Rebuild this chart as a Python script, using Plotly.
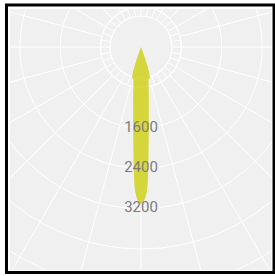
import plotly.graph_objects as go

# ---------------- data ----------------
tick_values = [1600, 2400, 3200]
tick_labels = ["1600", "2400", "3200"]
grid_rings = [800, 1600, 2400, 3200, 4000, 4800]
outer_spoke_step = 15          # degrees between outer spokes
inner_spoke_step = 10          # degrees between spokes in the inner band
inner_band_outer = 800         # radial value of the inner band's outer ring
inner_band_inner = 614         # radial value of the inner band's inner ring
bar_direction = 180            # compass angle of the shape (pointing down)
# outline of the yellow shape: radius and half angular width (deg) at that radius
bar_outline_r = [0, 127, 254, 380, 502, 602, 639, 652, 1003, 1592, 2184, 2677, 2874, 2992, 3070, 3109]
bar_outline_half = [0, 20, 19.5, 19.0, 18.0, 16.8, 16.0, 13.2, 8.9, 5.6, 3.9, 2.9, 2.3, 1.6, 0.9, 0]

# ---------------- styling / geometry ----------------
BG = "#f0f0f0"
GRID = "#ffffff"
FILL = "rgba(208,210,30,0.86)"
TEXT = "#7c7c7c"
FIG = 540                       # figure size (px)
R = FIG / 2                     # polar radius (px)
K = 0.0505                      # px per radial unit
RMAX = R / K
CX, CY = 141, 47                # where the pole sits in the window
OX, OY = CX - R, CY - R         # window position of the figure origin


def dom(rpx):
    return [0.5 - rpx / FIG, 0.5 + rpx / FIG]


def px(wx):
    return (wx - OX) / FIG


def py(wy):
    return 1 - (wy - OY) / FIG


theta_poly = [bar_direction - a for a in bar_outline_half] + [bar_direction + a for a in bar_outline_half[::-1]]
r_poly = bar_outline_r + bar_outline_r[::-1]

fig = go.Figure()
# anchors for the background subplots
for sp in ["polar", "polar2", "polar3"]:
    fig.add_trace(go.Scatterpolar(r=[], theta=[], subplot=sp, mode="lines",
                                  showlegend=False, hoverinfo="skip"))

fig.add_trace(go.Scatterpolar(
    r=r_poly, theta=theta_poly, subplot="polar4", mode="lines",
    fill="toself", fillcolor=FILL, line=dict(color="rgba(0,0,0,0)", width=0),
    showlegend=False, hoverinfo="skip"))

fig.add_trace(go.Scatterpolar(
    r=tick_values, theta=[bar_direction] * len(tick_values), subplot="polar4",
    mode="text", text=tick_labels, textposition="middle center",
    textfont=dict(family="Roboto", size=15, color=TEXT),
    showlegend=False, hoverinfo="skip"))

hidden_radial = dict(showgrid=False, showline=False, ticks="", showticklabels=False)

fig.update_layout(
    width=FIG, height=FIG,
    margin=dict(l=0, r=0, t=0, b=0),
    paper_bgcolor="white",
    showlegend=False,
    polar=dict(
        domain=dict(x=[0, 1], y=[0, 1]), bgcolor=BG,
        radialaxis=dict(range=[0, RMAX], tickmode="array", tickvals=grid_rings,
                        showticklabels=False, ticks="", showline=False,
                        gridcolor=GRID, gridwidth=1.2),
        angularaxis=dict(rotation=90, direction="clockwise", tickmode="linear",
                         tick0=0, dtick=outer_spoke_step, showticklabels=False,
                         ticks="", showline=False, gridcolor=GRID, gridwidth=1.2),
    ),
    polar2=dict(
        domain=dict(x=dom(inner_band_outer * K), y=dom(inner_band_outer * K)), bgcolor=BG,
        radialaxis=dict(range=[0, inner_band_outer], **hidden_radial),
        angularaxis=dict(rotation=90, direction="clockwise", tickmode="linear",
                         tick0=0, dtick=inner_spoke_step, showticklabels=False,
                         ticks="", showline=True, linecolor=GRID, linewidth=1.2,
                         gridcolor=GRID, gridwidth=1.0),
    ),
    polar3=dict(
        domain=dict(x=dom(inner_band_inner * K), y=dom(inner_band_inner * K)), bgcolor=BG,
        radialaxis=dict(range=[0, inner_band_inner], **hidden_radial),
        angularaxis=dict(rotation=90, direction="clockwise", showticklabels=False,
                         ticks="", showgrid=False, showline=True, linecolor=GRID,
                         linewidth=1.2),
    ),
    polar4=dict(
        domain=dict(x=[0, 1], y=[0, 1]), bgcolor="rgba(0,0,0,0)",
        radialaxis=dict(range=[0, RMAX], **hidden_radial),
        angularaxis=dict(rotation=90, direction="clockwise", showticklabels=False,
                         ticks="", showgrid=False, showline=False),
    ),
)

# white page margin around the framed chart, and the black frame
x0, x1, y0, y1 = px(10), px(271.5), py(9), py(270)
fig.add_shape(type="path", xref="paper", yref="paper", layer="above",
              path=(f"M 0,0 L 1,0 L 1,1 L 0,1 Z "
                    f"M {x0},{y0} L {x1},{y0} L {x1},{y1} L {x0},{y1} Z"),
              fillrule="evenodd", fillcolor="white", line=dict(width=0))
fig.add_shape(type="rect", xref="paper", yref="paper", layer="above",
              x0=px(6.5), x1=px(274), y0=py(5), y1=py(272.5),
              line=dict(color="black", width=3), fillcolor="rgba(0,0,0,0)")

post = (
    "var gd=document.getElementById('{plot_id}');"
    f"gd.style.position='absolute';gd.style.left='{OX:.0f}px';gd.style.top='{OY:.0f}px';"
    "document.documentElement.style.overflow='hidden';"
    "document.body.style.overflow='hidden';"
)

fig.write_html("out.html", config={"displayModeBar": False}, post_script=post)
